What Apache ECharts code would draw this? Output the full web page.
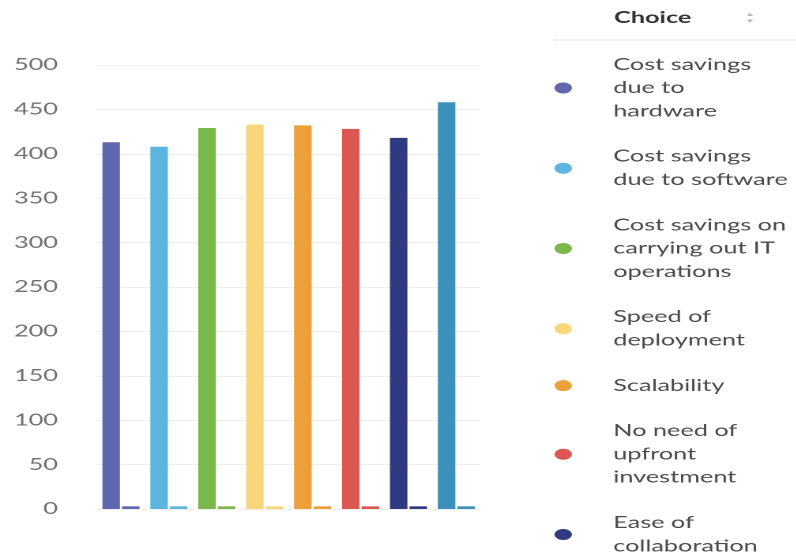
<!DOCTYPE html>
<html>
<head>
<meta charset="utf-8">
<script src="https://cdn.jsdelivr.net/npm/echarts@6/dist/echarts.min.js"></script>
<style>
  html, body { margin: 0; padding: 0; background: #ffffff; overflow: hidden; }
  #wrap { width: 796px; height: 558px; overflow: hidden; position: relative; }
  #c { position: absolute; left: 0; top: 0; height: 558px; transform-origin: 0 0; }
</style>
</head>
<body>
<div id="wrap"><div id="c"></div></div>
<script>
// ---- data ----
const categories = [
  'Cost savings due to hardware',
  'Cost savings due to software',
  'Cost savings on carrying out IT operations',
  'Speed of deployment',
  'Scalability',
  'No need of upfront investment',
  'Ease of collaboration',
  'Other'
];
const legendLabels = [
  'Cost savings\ndue to\nhardware',
  'Cost savings\ndue to software',
  'Cost savings on\ncarrying out IT\noperations',
  'Speed of\ndeployment',
  'Scalability',
  'No need of\nupfront\ninvestment',
  'Ease of\ncollaboration',
  'Other'
];
const mainValues  = [413, 408, 429, 433, 432, 428, 418, 458];
const smallValues = [3, 3, 3, 3, 3, 3, 3, 3];
const colors = ['#5f68ae', '#5bb5e0', '#7ab84b', '#f8d67c', '#eba03a', '#dc5752', '#2f3a80', '#3d90b8'];
const yMin = 0, yMax = 500, yStep = 50;

// ---- layout (image is horizontally stretched) ----
const SX = 1.58;
const W = 796 / SX;
const el = document.getElementById('c');
el.style.width = W + 'px';
el.style.transform = 'scaleX(' + SX + ')';
const rx = v => v / SX; // reference x -> chart x

const series = [];
categories.forEach((name, i) => {
  series.push({
    name: name, type: 'bar', stack: 'main', barWidth: rx(17.5), barGap: '12%',
    itemStyle: { color: colors[i] },
    data: categories.map((c, j) => j === i ? mainValues[i] : '-')
  });
});
categories.forEach((name, i) => {
  series.push({
    name: name, type: 'bar', stack: 'small', barWidth: rx(17.5), barGap: '12%',
    itemStyle: { color: colors[i] },
    data: categories.map((c, j) => j === i ? smallValues[i] : '-')
  });
});

const legendLeft = rx(564) - 6;
const chart = echarts.init(el, null, { renderer: 'canvas', devicePixelRatio: 2 });
chart.setOption({
  animation: false,
  grid: { left: rx(97), right: W - rx(480), top: 65, bottom: 49, containLabel: false },
  xAxis: {
    type: 'category', data: categories,
    axisLine: { show: false }, axisTick: { show: false }, axisLabel: { show: false },
    splitLine: { show: false }
  },
  yAxis: {
    type: 'value', min: yMin, max: yMax, interval: yStep,
    axisLine: { show: false }, axisTick: { show: false },
    axisLabel: { fontFamily: 'Lato', fontSize: 16, color: '#707070', margin: rx(39) },
    splitLine: { lineStyle: { color: '#eeeeee', width: 1 } }
  },
  legend: {
    orient: 'vertical', left: legendLeft, top: 53, padding: 0,
    itemWidth: 12, itemHeight: 11, itemGap: 22, icon: 'circle',
    selectedMode: false,
    data: categories,
    formatter: name => legendLabels[categories.indexOf(name)],
    textStyle: { fontFamily: 'Lato', fontSize: 16, color: '#4a4a4a', lineHeight: 23.3, padding: [0, 0, 0, rx(614) - legendLeft - 17] }
  },
  graphic: [
    { type: 'text', left: rx(614), top: 10, style: { text: 'Choice', font: 'bold 16px Lato', fill: '#333333' } },
    { type: 'polygon', shape: { points: [[rx(750) - 2, 16], [rx(750) + 2, 16], [rx(750), 12.5]] }, style: { fill: '#bbbbbb' } },
    { type: 'polygon', shape: { points: [[rx(750) - 2, 19.5], [rx(750) + 2, 19.5], [rx(750), 23]] }, style: { fill: '#bbbbbb' } },
    { type: 'line', shape: { x1: rx(553), y1: 40, x2: W, y2: 40 }, style: { stroke: '#e6e6e6', lineWidth: 1 } }
  ],
  series: series
});
</script>
</body>
</html>
